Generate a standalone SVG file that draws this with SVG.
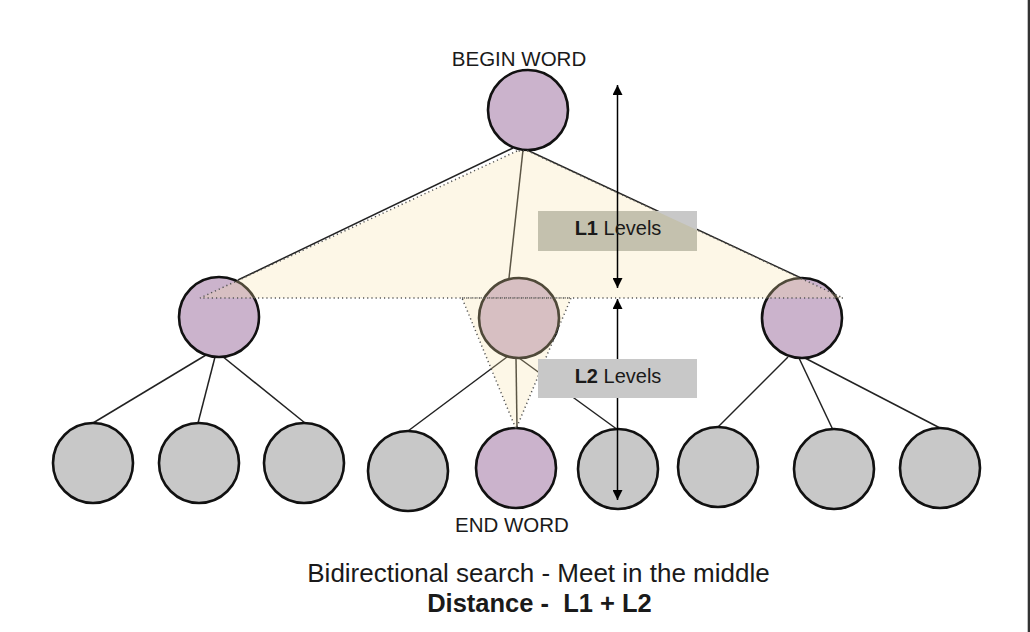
<svg xmlns="http://www.w3.org/2000/svg" width="1030" height="632" viewBox="0 0 1030 632">
<style>
.n circle{stroke:#111;stroke-width:2.6}
.p{fill:#cbb3cc}
.g{fill:#c8c8c8}
.c line{stroke:#222;stroke-width:1.5}
.t{font-family:"Liberation Sans",Arial,sans-serif;fill:#1a1a1a}
.dot{fill:#f8e1a7;fill-opacity:0.27;stroke:#555;stroke-width:1.5;stroke-dasharray:1.2 3}
.ar{stroke:#000;stroke-width:1.5}
</style>
<defs>
<marker id="ah" viewBox="0 0 10 10" refX="10" refY="5" markerWidth="10" markerHeight="10" markerUnits="userSpaceOnUse" orient="auto">
<path d="M0,0 L10,5 L0,10 z" fill="#000"/>
</marker>
</defs>
<rect width="1030" height="632" fill="#fff"/>
<rect x="1027.7" y="0" width="2.3" height="632" fill="#333"/>

<g id="connectors" class="c">
<line x1="513" y1="148" x2="238" y2="280"/>
<line x1="523" y1="150" x2="509" y2="278"/>
<line x1="527" y1="150" x2="801" y2="278"/>
<line x1="206" y1="355" x2="93" y2="423"/>
<line x1="215" y1="357" x2="198" y2="423"/>
<line x1="222" y1="356" x2="305" y2="423"/>
<line x1="507" y1="357" x2="408" y2="431"/>
<line x1="516" y1="358" x2="517" y2="428"/>
<line x1="519" y1="358" x2="618" y2="430"/>
<line x1="788" y1="357" x2="718" y2="427"/>
<line x1="799" y1="358" x2="833" y2="430"/>
<line x1="803" y1="357" x2="940" y2="428"/>
</g>

<g id="node-begin" class="n"><circle class="p" cx="528" cy="110" r="40"/></g>
<g id="node-l1a" class="n"><circle class="p" cx="219" cy="317" r="40"/></g>
<g id="node-l1b" class="n"><circle class="p" cx="519" cy="318" r="40"/></g>
<g id="node-l1c" class="n"><circle class="p" cx="802" cy="318" r="40"/></g>
<g id="node-a1" class="n"><circle class="g" cx="93" cy="463" r="40"/></g>
<g id="node-a2" class="n"><circle class="g" cx="199" cy="463" r="40"/></g>
<g id="node-a3" class="n"><circle class="g" cx="304" cy="463" r="40"/></g>
<g id="node-b1" class="n"><circle class="g" cx="408" cy="471" r="40"/></g>
<g id="node-end" class="n"><circle class="p" cx="516" cy="468" r="40"/></g>
<g id="node-b3" class="n"><circle class="g" cx="618" cy="469" r="40"/></g>
<g id="node-c1" class="n"><circle class="g" cx="718" cy="467" r="40"/></g>
<g id="node-c2" class="n"><circle class="g" cx="834" cy="469" r="40"/></g>
<g id="node-c3" class="n"><circle class="g" cx="940" cy="468" r="40"/></g>

<g id="reach">
<polygon class="dot" points="517,151 200,298 843,298 528,151"/>
<polygon class="dot" points="462,298 571,298 516,429"/>
</g>

<g id="l1-label">
<rect x="538" y="211" width="159" height="40" fill="#c8c8c8"/>
<polygon points="538,211 656,211 697,230 697,251 538,251" fill="#c4c1ae"/>
</g>

<g id="arrows">
<line class="ar" x1="617.5" y1="250" x2="617.5" y2="85" marker-end="url(#ah)"/>
<line class="ar" x1="617.5" y1="250" x2="617.5" y2="288" marker-end="url(#ah)"/>
<line class="ar" x1="617.5" y1="360" x2="617.5" y2="299" marker-end="url(#ah)"/>
<line class="ar" x1="617.5" y1="360" x2="617.5" y2="500" marker-end="url(#ah)"/>
</g>

<g id="l2-label">
<rect x="538" y="359" width="159" height="39" fill="#c8c8c8"/>
</g>

<text class="t" x="618" y="235" font-size="20" text-anchor="middle"><tspan font-weight="bold">L1</tspan> Levels</text>
<text class="t" x="618" y="383" font-size="20" text-anchor="middle"><tspan font-weight="bold">L2</tspan> Levels</text>
<text class="t" x="519" y="66" font-size="20.5" text-anchor="middle">BEGIN WORD</text>
<text class="t" x="512" y="532" font-size="20.5" text-anchor="middle">END WORD</text>
<text class="t" x="538.5" y="582" font-size="26" text-anchor="middle">Bidirectional search - Meet in the middle</text>
<text class="t" x="539.5" y="612" font-size="25.5" font-weight="bold" text-anchor="middle" style="white-space:pre">Distance -  L1 + L2</text>
</svg>
